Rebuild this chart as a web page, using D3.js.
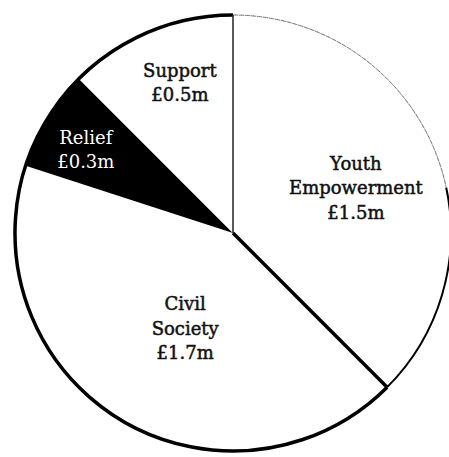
<!DOCTYPE html>
<meta charset="utf-8" />
<script src="https://d3js.org/d3.v7.min.js"></script>
<div id="chart"></div>
<script>
  // funding split (clockwise from 12 o'clock)
  const names = ["Youth Empowerment", "Civil Society", "Relief", "Support"];
  const values = [1.5, 1.7, 0.3, 0.5];
  const labelLines = [
    ["Youth", "Empowerment", "£1.5m"],
    ["Civil", "Society", "£1.7m"],
    ["Relief", "£0.3m"],
    ["Support", "£0.5m"],
  ];
  const fills = ["#ffffff", "#ffffff", "#000000", "#ffffff"];

  const width = 449,
    height = 457,
    r = 218,
    cx = 233,
    cy = 233;

  const svg = d3
    .select("#chart")
    .append("svg")
    .attr("width", width)
    .attr("height", height)
    .style("background", "#fff");

  const g = svg.append("g").attr("transform", `translate(${cx}, ${cy})`);

  const data = names.map((n, i) => ({ name: n, value: values[i], lines: labelLines[i], fill: fills[i] }));

  const pie = d3.pie().sort(null).value((d) => d.value);
  const arcs = pie(data);
  const arc = d3.arc().innerRadius(0).outerRadius(r);

  // slices
  g.selectAll("path.slice")
    .data(arcs)
    .join("path")
    .attr("class", "slice")
    .attr("d", arc)
    .attr("fill", (d) => d.data.fill)
    .attr("stroke", "none");

  // outline: scan is faint on the upper right, heavy elsewhere
  const rim = d3.arc().innerRadius(r).outerRadius(r);
  const toRad = (deg) => (deg * Math.PI) / 180;
  g.append("path")
    .attr("d", rim({ startAngle: 0, endAngle: toRad(78) }))
    .attr("fill", "none")
    .attr("stroke", "#777")
    .attr("stroke-width", 1)
    .attr("stroke-dasharray", "3,3");
  g.append("path")
    .attr("d", rim({ startAngle: toRad(78), endAngle: arcs[0].endAngle }))
    .attr("fill", "none")
    .attr("stroke", "#000")
    .attr("stroke-width", 2);
  g.append("path")
    .attr("d", rim({ startAngle: arcs[0].endAngle, endAngle: 2 * Math.PI }))
    .attr("fill", "none")
    .attr("stroke", "#000")
    .attr("stroke-width", 3.5);

  // dividers
  const edge = (a, len) => [Math.sin(a) * len, -Math.cos(a) * len];
  const p0 = edge(0, r);
  g.append("line")
    .attr("x1", 0).attr("y1", 0)
    .attr("x2", p0[0]).attr("y2", p0[1])
    .attr("stroke", "#222")
    .attr("stroke-width", 1.5);
  const p1 = edge(arcs[0].endAngle, r);
  g.append("line")
    .attr("x1", 0).attr("y1", 0)
    .attr("x2", p1[0]).attr("y2", p1[1])
    .attr("stroke", "#000")
    .attr("stroke-width", 3.5);

  // labels
  const labelAt = {
    "Youth Empowerment": [70, 0.6],
    "Civil Society": [206.6, 0.49],
    Relief: [299.4, 0.775],
    Support: [340.5, 0.73],
  };
  const lineH = 24.5;

  arcs.forEach((d) => {
    const [deg, f] = labelAt[d.data.name];
    const [x, y] = edge(toRad(deg), f * r);
    const n = d.data.lines.length;
    const dark = d.data.fill === "#000000";
    const t = g
      .append("text")
      .attr("x", x)
      .attr("y", y)
      .attr("text-anchor", "middle")
      .style("font-family", "'DejaVu Serif', serif")
      .style("font-size", "18px")
      .style("fill", dark ? "#fff" : "#111");
    if (dark) {
      t.style("stroke", "#000").style("stroke-width", 0.8).style("paint-order", "stroke");
    } else {
      // scan makes the type look heavier
      t.style("stroke", "#111").style("stroke-width", 0.5);
    }
    d.data.lines.forEach((line, i) => {
      t.append("tspan")
        .attr("x", x)
        .attr("y", y + 6 + (i - (n - 1) / 2) * lineH)
        .text(line);
    });
  });
</script>
<style>
  body {
    margin: 0;
  }
</style>
